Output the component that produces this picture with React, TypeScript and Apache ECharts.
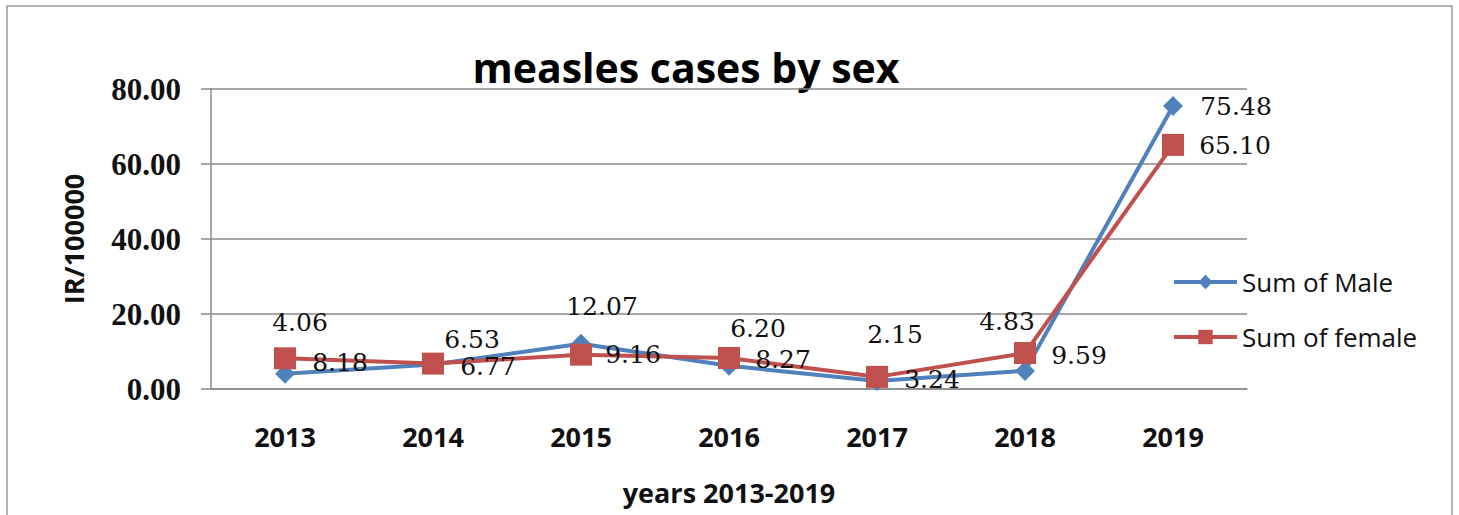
import React, { useEffect, useRef } from "react";
import * as echarts from "echarts";

// Measles incidence (IR per 100000) by sex, 2013–2019
const years = ["2013", "2014", "2015", "2016", "2017", "2018", "2019"];
const male = [4.06, 6.53, 12.07, 6.2, 2.15, 4.83, 75.48];
const female = [8.18, 6.77, 9.16, 8.27, 3.24, 9.59, 65.1];
const seriesNames = ["Sum of Male", "Sum of female"];

// Manual label placement (px offset from each point's centre)
const maleLabelOffsets = [
  [15, -51],
  [39, -25],
  [21, -37],
  [29, -37],
  [18, -46],
  [-18, -49],
  [63, 1],
];
const femaleLabelOffsets = [
  [55, 4],
  [55, 3],
  [52, 0],
  [54, 2],
  [55, 3],
  [54, 2],
  [62, 1],
];

const BLUE = "#4F81BD";
const RED = "#C0504D";
const GRID = "#8a8a8a";

export default function App() {
  const ref = useRef<HTMLDivElement>(null);

  useEffect(() => {
    if (!ref.current) return;
    const chart = echarts.init(ref.current, undefined, { renderer: "svg" });

    const labelBase = {
      show: true,
      position: "inside" as const,
      fontFamily: "DejaVu Serif",
      fontSize: 25,
      color: "#111",
      formatter: (p: any) => Number(p.value).toFixed(2),
    };

    chart.setOption({
      animation: false,
      backgroundColor: "#ffffff",
      graphic: [
        {
          type: "rect",
          shape: { x: 7, y: 6, width: 1445, height: 540 },
          style: { fill: "none", stroke: "#9a9a9a", lineWidth: 1.5 },
          silent: true,
          z: -1,
        },
        {
          type: "text",
          x: 686,
          y: 67,
          style: {
            text: "measles cases by sex",
            fontFamily: "Open Sans",
            fontWeight: "bold",
            fontSize: 41,
            fill: "#000",
            align: "center",
            verticalAlign: "middle",
          },
        },
      ],
      legend: {
        data: seriesNames,
        orient: "vertical",
        left: 1172,
        top: 267,
        itemWidth: 63,
        itemHeight: 18,
        itemGap: 25,
        padding: 0,
        lineStyle: { width: 4 },
        textStyle: {
          fontFamily: "Open Sans",
          fontSize: 26,
          color: "#111",
          lineHeight: 30,
        },
      },
      grid: { left: 211, right: 212, top: 89, bottom: 126, containLabel: false },
      xAxis: {
        type: "category",
        data: years,
        boundaryGap: true,
        name: "years 2013-2019",
        nameLocation: "middle",
        nameGap: 90,
        nameTextStyle: {
          fontFamily: "Open Sans",
          fontWeight: "bold",
          fontSize: 27,
          color: "#111",
        },
        axisLine: { show: true, lineStyle: { color: GRID, width: 1.5 } },
        axisTick: { show: false },
        axisLabel: {
          margin: 34,
          fontFamily: "Open Sans",
          fontWeight: "bold",
          fontSize: 27,
          color: "#111",
        },
      },
      yAxis: {
        type: "value",
        min: 0,
        max: 80,
        interval: 20,
        name: "IR/100000",
        nameLocation: "middle",
        nameGap: 124,
        nameTextStyle: {
          fontFamily: "Open Sans",
          fontWeight: "bold",
          fontSize: 27,
          color: "#111",
        },
        axisLine: { show: true, lineStyle: { color: GRID, width: 1.5 } },
        axisTick: { show: true, inside: false, length: 10, lineStyle: { color: GRID, width: 1.5 } },
        splitLine: { show: true, lineStyle: { color: GRID, width: 1.5 } },
        axisLabel: {
          margin: 30,
          fontFamily: "Liberation Serif",
          fontWeight: "bold",
          fontSize: 31,
          color: "#111",
          formatter: (v: number) => v.toFixed(2),
        },
      },
      series: [
        {
          name: seriesNames[0],
          type: "line",
          data: male.map((v, i) => ({ value: v, label: { offset: maleLabelOffsets[i] } })),
          symbol: "diamond",
          symbolSize: 20,
          lineStyle: { color: BLUE, width: 4 },
          itemStyle: { color: BLUE },
          label: labelBase,
          z: 2,
        },
        {
          name: seriesNames[1],
          type: "line",
          data: female.map((v, i) => ({ value: v, label: { offset: femaleLabelOffsets[i] } })),
          symbol: "rect",
          symbolSize: 22,
          lineStyle: { color: RED, width: 4 },
          itemStyle: { color: RED },
          label: labelBase,
          z: 3,
        },
      ],
    });

    return () => chart.dispose();
  }, []);

  return (
    <div
      ref={ref}
      style={{ position: "absolute", left: 0, top: 0, width: 1459, height: 515 }}
    />
  );
}
